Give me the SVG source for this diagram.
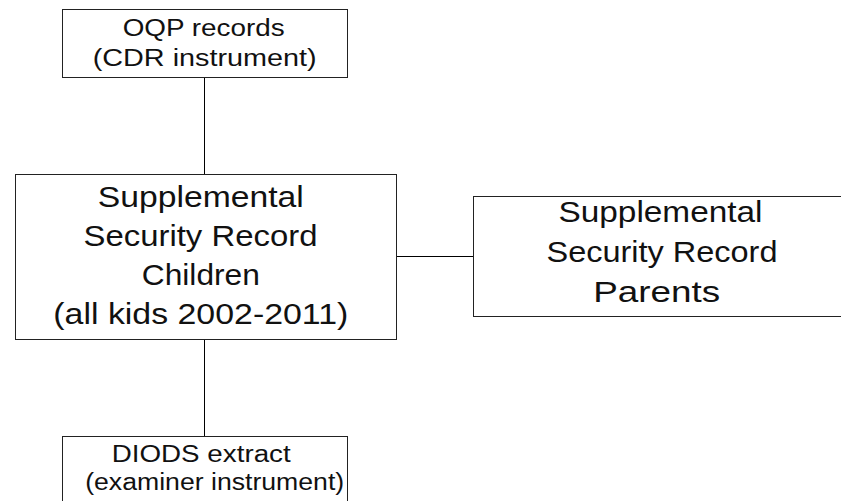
<svg xmlns="http://www.w3.org/2000/svg" width="841" height="501" viewBox="0 0 841 501">
  <style>
    .box { fill: #fff; stroke: #222; stroke-width: 1; }
    .edge { stroke: #000; stroke-width: 1; fill: none; }
    .t { font-family: "Liberation Sans", Arial, sans-serif; fill: #111; text-anchor: middle; }
    .sm { font-size: 23px; }
    .lg { font-size: 29px; }
  </style>
  <rect width="841" height="501" fill="#fff"/>

  <g id="connectors">
    <line class="edge" x1="204.5" y1="77.5" x2="204.5" y2="174.5"/>
    <line class="edge" x1="396.5" y1="256.5" x2="473.5" y2="256.5"/>
    <line class="edge" x1="204.5" y1="339.5" x2="204.5" y2="436.5"/>
  </g>

  <g id="oqp">
    <rect class="box" x="62.5" y="9.5" width="285" height="68"/>
    <text class="t sm" x="203.7" y="36" textLength="162" lengthAdjust="spacingAndGlyphs">OQP records</text>
    <text class="t sm" x="204.7" y="66" textLength="224" lengthAdjust="spacingAndGlyphs">(CDR instrument)</text>
  </g>

  <g id="children">
    <rect class="box" x="15.5" y="174.5" width="381" height="165"/>
    <text class="t lg" x="200.8" y="207" textLength="206" lengthAdjust="spacingAndGlyphs">Supplemental</text>
    <text class="t lg" x="200.5" y="246" textLength="234" lengthAdjust="spacingAndGlyphs">Security Record</text>
    <text class="t lg" x="200.8" y="285" textLength="118" lengthAdjust="spacingAndGlyphs">Children</text>
    <text class="t lg" x="200.8" y="324" textLength="295" lengthAdjust="spacingAndGlyphs">(all kids 2002-2011)</text>
  </g>

  <g id="parents">
    <rect class="box" x="473.5" y="196.5" width="420" height="120"/>
    <text class="t lg" x="660.5" y="222" textLength="204" lengthAdjust="spacingAndGlyphs">Supplemental</text>
    <text class="t lg" x="662" y="262" textLength="231" lengthAdjust="spacingAndGlyphs">Security Record</text>
    <text class="t lg" x="656.7" y="301.5" textLength="127" lengthAdjust="spacingAndGlyphs">Parents</text>
  </g>

  <g id="diods">
    <rect class="box" x="62.5" y="436.5" width="285" height="90"/>
    <text class="t sm" x="201.2" y="462" textLength="179" lengthAdjust="spacingAndGlyphs">DIODS extract</text>
    <text class="t sm" x="214.7" y="489.5" textLength="259" lengthAdjust="spacingAndGlyphs">(examiner instrument)</text>
  </g>
</svg>
